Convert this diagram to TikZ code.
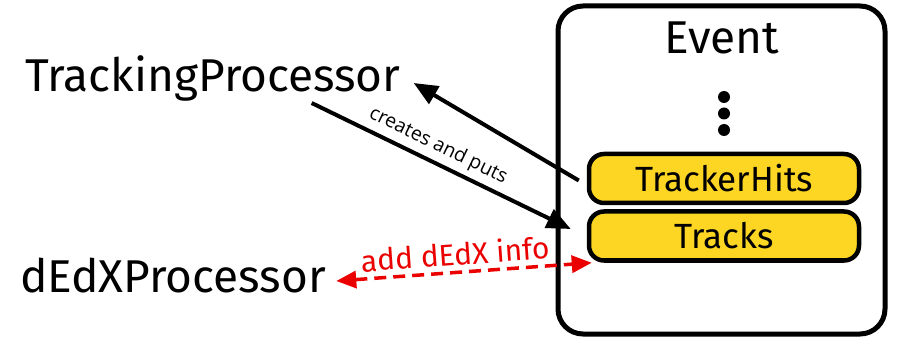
\documentclass[tikz,border=0pt]{standalone}
\usepackage{fontspec}
\setmainfont{Fira Sans}
\newfontfamily\opensans{Open Sans}
\usetikzlibrary{arrows.meta,calc}
\definecolor{evyellow}{RGB}{252,214,34}
\definecolor{evred}{RGB}{235,0,0}
\begin{document}
\begin{tikzpicture}[x=1pt,y=-1pt,line join=round,
  big/.style={font=\fontsize{46}{50}\selectfont, inner sep=0pt},
  coll/.style={draw, line width=4.5pt, rounded corners=15pt, fill=evyellow,
    minimum width=270pt, minimum height=49pt, inner sep=0pt,
    font=\fontsize{35}{40}\selectfont},
  frame/.style={draw, line width=5pt, rounded corners=25pt,
    minimum width=327pt, minimum height=328pt, inner sep=0pt},
  arr/.style={line width=4pt, -{Triangle[length=24pt,width=20pt]}},
  redarr/.style={line width=3.5pt, evred, dash pattern=on 12pt off 7pt,
    {Triangle[length=20pt,width=17pt]}-{Triangle[length=20pt,width=17pt]}},
  smalllab/.style={font=\opensans\fontsize{19.5}{22}\selectfont, inner sep=1pt},
  redlab/.style={font=\fontsize{30}{34}\selectfont, text=evred, inner sep=1pt}]
\useasboundingbox (0,0) rectangle (897,339);
\node[frame] (evbox) at (721.5,170) {};
\node[big, anchor=base] (evlabel) at (722,54) {Event};
\fill (724,97) circle (6);
\fill (724,113.5) circle (6);
\fill (724,130) circle (6);
\node[coll] (hits) at (724,178.5) {TrackerHits};
\node[coll] (tracks) at (724,236) {Tracks};
\node[big, anchor=base west] (tp) at (25,92) {TrackingProcessor};
\node[big, anchor=base west] (dp) at (20,292) {dEdXProcessor};
\draw[arr] ($(hits.west)+(-8,2)$) -- ($(tp.base east)+(13,-9)$);
\draw[arr] ($(tp.base east)+(-89,11)$) -- node[pos=0.46, sloped, above=4pt, smalllab] {creates and puts} ($(tracks.west)+(-16,-7)$);
\draw[redarr] ($(dp.base east)+(10,-11)$) -- node[pos=0.47, sloped, above=4pt, redlab] {add dEdX info} ($(tracks.south west)+(5,0)$);
\end{tikzpicture}
\end{document}
